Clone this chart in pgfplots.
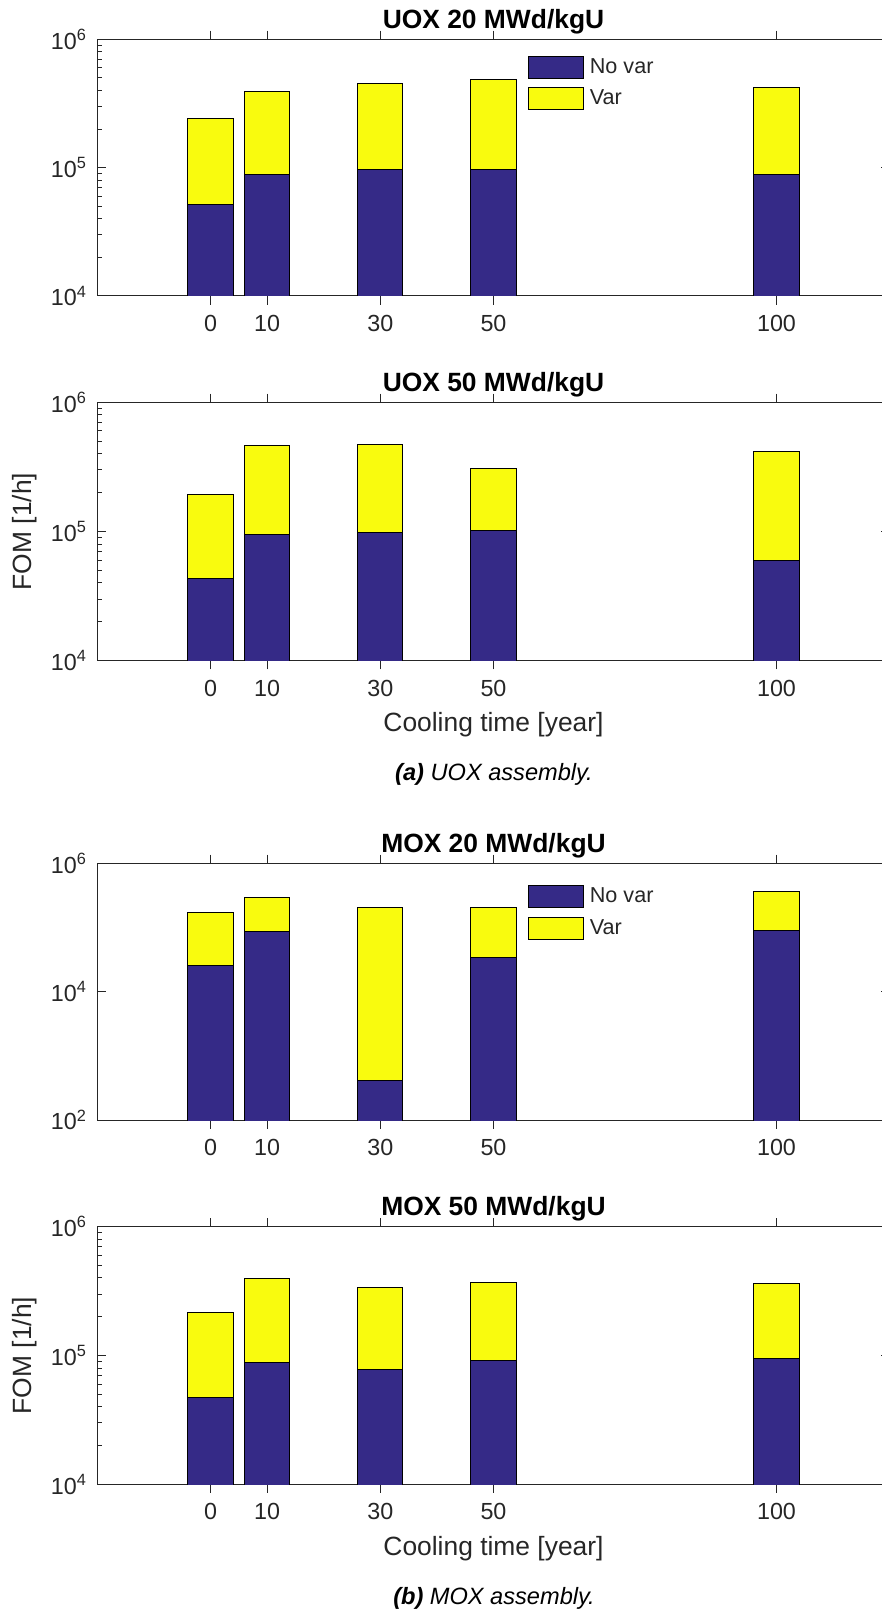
\documentclass[border=0pt]{standalone}
\usepackage{fontspec}
\setmainfont{Liberation Sans}
\usepackage{pgfplots}
\pgfplotsset{compat=1.18}
\definecolor{nv}{HTML}{352A87}
\definecolor{yv}{HTML}{F9FB0E}
\definecolor{axgray}{rgb}{0.15,0.15,0.15}
\pgfplotsset{
  myPanelStyle/.style={
    scale only axis, width=396.2pt, anchor=north west,
    xmin=-20, xmax=120,
    ybar, bar width=8, bar shift=0pt,
    xtick={0,10,30,50,100}, xticklabels={0,10,30,50,100},
    axis line style={draw=axgray, line width=0.5pt},
    tick style={draw=axgray, line width=0.5pt},
    major tick length=4.3pt, minor tick length=2.2pt,
    tick label style={font=\fontsize{11.65}{13}\selectfont, text=axgray},
    xticklabel style={anchor=base, yshift=-13.4pt, inner sep=0pt},
    yticklabel style={anchor=east, xshift=-5pt, inner sep=0pt},
    title style={font=\bfseries\fontsize{13.2}{15}\selectfont, at={(0.5,1)}, anchor=base, yshift=-0.5pt, text=black},
    label style={font=\fontsize{13.2}{15}\selectfont, text=axgray},
    xlabel style={at={(axis description cs:0.5,0)}, anchor=base, yshift=-35.5pt},
    ylabel style={at={(axis description cs:-0.0915,0.5)}, anchor=center},
    legend style={draw=none, fill=none, inner sep=0pt, outer sep=0pt, row sep=4.3pt, column sep=2.8pt,
      nodes={inner sep=0pt, font=\fontsize{10.8}{12}\selectfont, text=axgray}},
    legend cell align=left,
    legend image code/.code={\draw[#1] (0pt,-5.5pt) rectangle (27.5pt,5.5pt);},
  },
}
\begin{document}
\begin{tikzpicture}
% Panel 1: UOX 20
\begin{semilogyaxis}[myPanelStyle, at={(48.65pt,-19.65pt)}, height=128.35pt,
  ymin=1e4, ymax=1e6, ytick={1e4,1e5,1e6},
  yticklabels={10\textsuperscript{4},10\textsuperscript{5},10\textsuperscript{6}},
  title={UOX 20 MWd/kgU},
  legend style={at={(rel axis cs:0.5439,1)}, anchor=north west, yshift=-8.2pt}]
\addplot[fill=yv, draw=black, line width=0.5pt, forget plot] coordinates {(0,2.43e5) (10,3.91e5) (30,4.52e5) (50,4.82e5) (100,4.23e5)};
\addplot[fill=nv, draw=black, line width=0.5pt] coordinates {(0,5.12e4) (10,8.88e4) (30,9.6e4) (50,9.6e4) (100,8.88e4)};
\addlegendentry{No var}
\addlegendimage{fill=yv, draw=black, line width=0.5pt}
\addlegendentry{Var}
\end{semilogyaxis}
% Panel 2: UOX 50
\begin{semilogyaxis}[myPanelStyle, at={(48.65pt,-201.15pt)}, height=129.2pt,
  ymin=1e4, ymax=1e6, ytick={1e4,1e5,1e6},
  yticklabels={10\textsuperscript{4},10\textsuperscript{5},10\textsuperscript{6}},
  title={UOX 50 MWd/kgU}, xlabel={Cooling time [year]}, ylabel={FOM [1/h]}]
\addplot[fill=yv, draw=black, line width=0.5pt] coordinates {(0,1.93e5) (10,4.61e5) (30,4.7e5) (50,3.1e5) (100,4.18e5)};
\addplot[fill=nv, draw=black, line width=0.5pt] coordinates {(0,4.34e4) (10,9.5e4) (30,9.8e4) (50,1.01e5) (100,5.98e4)};
\end{semilogyaxis}
% Panel 3: MOX 20
\begin{semilogyaxis}[myPanelStyle, at={(48.65pt,-431.65pt)}, height=128.35pt,
  ymin=1e2, ymax=1e6, ytick={1e2,1e4,1e6}, yminorticks=false,
  yticklabels={10\textsuperscript{2},10\textsuperscript{4},10\textsuperscript{6}},
  title={MOX 20 MWd/kgU},
  legend style={at={(rel axis cs:0.5439,1)}, anchor=north west, yshift=-11pt}]
\addplot[fill=yv, draw=black, line width=0.5pt, forget plot] coordinates {(0,1.72e5) (10,2.98e5) (30,2.03e5) (50,2.03e5) (100,3.69e5)};
\addplot[fill=nv, draw=black, line width=0.5pt] coordinates {(0,2.6e4) (10,8.8e4) (30,415) (50,3.37e4) (100,8.9e4)};
\addlegendentry{No var}
\addlegendimage{fill=yv, draw=black, line width=0.5pt}
\addlegendentry{Var}
\end{semilogyaxis}
% Panel 4: MOX 50
\begin{semilogyaxis}[myPanelStyle, at={(48.65pt,-613.35pt)}, height=128.8pt,
  ymin=1e4, ymax=1e6, ytick={1e4,1e5,1e6},
  yticklabels={10\textsuperscript{4},10\textsuperscript{5},10\textsuperscript{6}},
  title={MOX 50 MWd/kgU}, xlabel={Cooling time [year]}, ylabel={FOM [1/h]}]
\addplot[fill=yv, draw=black, line width=0.5pt] coordinates {(0,2.14e5) (10,3.95e5) (30,3.4e5) (50,3.7e5) (100,3.61e5)};
\addplot[fill=nv, draw=black, line width=0.5pt] coordinates {(0,4.76e4) (10,8.75e4) (30,7.85e4) (50,9.1e4) (100,9.5e4)};
\end{semilogyaxis}
\node[anchor=base, font=\itshape\fontsize{11.8}{13}\selectfont] at (247pt,-390pt) {\textbf{(a)} UOX assembly.};
\node[anchor=base, font=\itshape\fontsize{11.8}{13}\selectfont] at (247pt,-802pt) {\textbf{(b)} MOX assembly.};
\pgfresetboundingbox
\useasboundingbox (0,0) rectangle (441pt,-806pt);
\end{tikzpicture}
\end{document}
